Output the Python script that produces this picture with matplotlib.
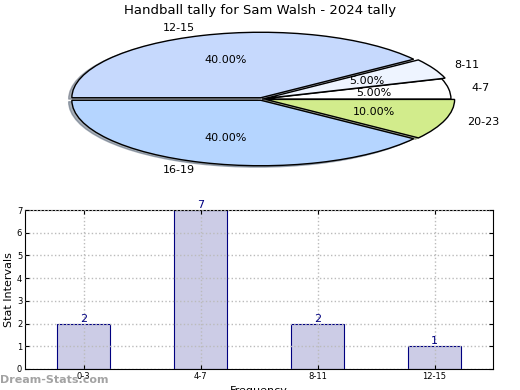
import matplotlib
matplotlib.use("Agg")
import matplotlib.pyplot as plt

# pie data, counterclockwise from the left edge
pie_labels = ["16-19", "20-23", "4-7", "8-11", "12-15"]
pie_values = [40, 10, 5, 5, 40]
pie_colors = ["#b5d5ff", "#d2ec8c", "#ffffff", "#eef4ff", "#c6d9fd"]
pie_explode = [0.02, 0.02, 0.0, 0.02, 0.02]

# bar data
bar_labels = ["0-3", "4-7", "8-11", "12-15"]
bar_values = [2, 7, 2, 1]

fig = plt.figure(figsize=(5.2, 3.9), dpi=100)

# top: squashed pie
ax1 = fig.add_axes([21 / 520, 207.5 / 390, 482 / 520, 167 / 390])
wedges, texts, autotexts = ax1.pie(
    pie_values, labels=pie_labels, colors=pie_colors, explode=pie_explode,
    startangle=180, autopct="%.2f%%", pctdistance=0.6, labeldistance=1.12,
    radius=0.98, shadow=dict(ox=-0.012, oy=-0.015, shade=0.55),
    wedgeprops=dict(edgecolor="black", linewidth=1),
    textprops=dict(fontsize=8))
ax1.set_aspect("auto")
ax1.set_xlim(-1.25, 1.25)
ax1.set_ylim(-1.25, 1.25)
fig.text(0.5, 0.972, "Handball tally for Sam Walsh - 2024 tally",
         ha="center", va="center", fontsize=9.5)

# bottom: bar chart
ax2 = fig.add_axes([25 / 520, 21 / 390, 468 / 520, 159 / 390])
x = range(len(bar_labels))
bars = ax2.bar(x, bar_values, width=0.45, color="#cccce6",
               edgecolor="#000080", linewidth=0.8, zorder=2)
for xi, v in zip(x, bar_values):
    ax2.text(xi, v, str(v), ha="center", va="bottom", color="#000080",
             fontsize=8)
ax2.set_xlim(-0.5, 3.5)
ax2.set_ylim(0, 7)
ax2.set_xticks(list(x))
ax2.set_xticklabels(bar_labels)
ax2.set_yticks(range(8))
ax2.tick_params(labelsize=6, direction="in", top=True, right=True,
                length=3, pad=2)
ax2.grid(True, linestyle=":", color="#bbbbbb", linewidth=1, zorder=3)
ax2.set_axisbelow(False)
ax2.set_ylabel("Stat Intervals", fontsize=8, labelpad=2)
ax2.set_xlabel("Frequency", fontsize=8, labelpad=4)

fig.text(0.0, 0.025, "Dream-Stats.com", color="#999999", fontsize=8,
         fontweight="bold", ha="left", va="center", alpha=0.9)

fig.savefig("out.png", dpi=100)
